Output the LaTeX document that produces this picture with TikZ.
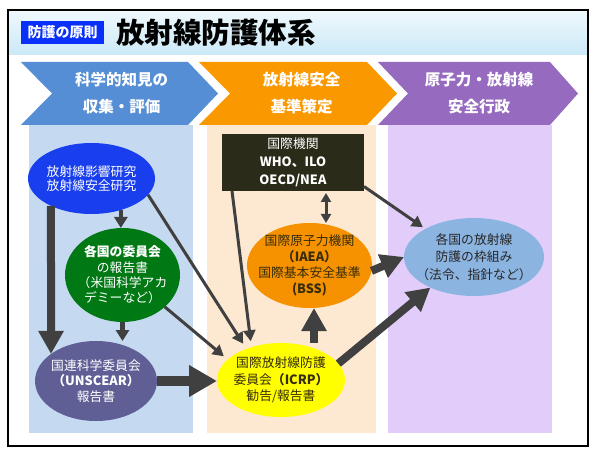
\documentclass[tikz,border=0pt]{standalone}
\usepackage{fontspec}
\setmainfont{Noto Sans CJK JP}
\usepackage{xcolor}
\definecolor{LabelBlue}{RGB}{8,48,250}
\definecolor{TitleBlue}{RGB}{203,233,247}
\definecolor{ChevBlue}{RGB}{85,142,213}
\definecolor{ChevOrange}{RGB}{250,152,0}
\definecolor{ChevPurple}{RGB}{150,106,190}
\definecolor{ColBlue}{RGB}{197,217,241}
\definecolor{ColOrange}{RGB}{253,233,209}
\definecolor{ColPurple}{RGB}{226,205,250}
\definecolor{ResBlue}{RGB}{25,62,238}
\definecolor{NatlGreen}{RGB}{0,120,20}
\definecolor{UnscPurple}{RGB}{95,95,150}
\definecolor{IcrpYellow}{RGB}{255,255,0}
\definecolor{IaeaOrange}{RGB}{246,145,0}
\definecolor{OrgDark}{RGB}{43,43,26}
\definecolor{FrameBlue}{RGB}{140,180,225}
\definecolor{ArrowGray}{RGB}{64,64,64}
\definecolor{DarkText}{RGB}{55,45,10}
\usepackage{tikz}
\usetikzlibrary{shapes.geometric, arrows.meta}

\begin{document}
\begin{tikzpicture}[x=1pt, y=-1pt,
	ell/.style={ellipse, inner sep=-14pt, outer sep=0pt, align=center},
	thinarr/.style={draw=ArrowGray, line width=3pt, -{Triangle[length=11pt, width=12pt]}},
	midarr/.style={draw=ArrowGray, line width=4.5pt, -{Triangle[length=11pt, width=13pt]}},
	bigarr/.style={draw=ArrowGray, line width=8pt, -{Triangle[length=23pt, width=24pt]}},
	hugearr/.style={draw=ArrowGray, line width=10pt, -{Triangle[length=28pt, width=30pt]}},
	dblarr/.style={draw=ArrowGray, line width=3pt, {Triangle[length=9pt, width=10pt]}-{Triangle[length=9pt, width=10pt]}},
	chevtext/.style={text=white, align=center, font=\bfseries\fontsize{15.5}{27}\selectfont}]
	\useasboundingbox (0,0) rectangle (599,454);
	% Cabecera
	\shade[top color=white!70!TitleBlue, bottom color=TitleBlue] (8,10) rectangle (588,55);
	\node[fill=LabelBlue, text=white, font=\bfseries\fontsize{14}{14}\selectfont, minimum width=83pt, minimum height=23pt, inner sep=0pt] (tag) at (62.5,32.5) {防護の原則};
	\node[anchor=west, inner sep=0pt, font=\bfseries\fontsize{28.5}{28.5}\selectfont] (title) at (116,33) {放射線防護体系};
	% Columnas
	\fill[ColBlue] (29,125) rectangle (193,433);
	\fill[ColOrange] (207,125) rectangle (376,433);
	\fill[ColPurple] (388,125) rectangle (552,433);
	% Flechas de cabecera
	\fill[ChevBlue] (21,62) -- (188,62) -- (218,93.5) -- (188,125) -- (21,125) -- (52,93.5) -- cycle;
	\fill[ChevOrange] (199,62) -- (367,62) -- (397,93.5) -- (367,125) -- (199,125) -- (230,93.5) -- cycle;
	\fill[ChevPurple] (378,62) -- (550,62) -- (578,93.5) -- (550,125) -- (378,125) -- (408,93.5) -- cycle;
	\node[chevtext] (hd1) at (121.5,93.5) {科学的知見の\\収集・評価};
	\node[chevtext] (hd2) at (301.5,93.5) {放射線安全\\基準策定};
	\node[chevtext] (hd3) at (479,93.5) {原子力・放射線\\安全行政};
	% Nodos
	\node[ell, fill=ResBlue, text=white, minimum width=127pt, minimum height=71pt, font=\fontsize{12.8}{14.5}\selectfont] (res) at (91.5,178.5) {放射線影響研究\\放射線安全研究};
	\node[ell, fill=NatlGreen, text=white, minimum width=115pt, minimum height=94pt, font=\fontsize{12.8}{15.3}\selectfont] (natl) at (122.5,275) {\textbf{各国の委員会}\\の報告書\\（米国科学アカ\\デミーなど）};
	\node[ell, fill=UnscPurple, text=white, minimum width=122pt, minimum height=80pt, font=\fontsize{12.8}{15.5}\selectfont] (unsc) at (96,381) {国連科学委員会\\\textbf{（UNSCEAR）}\\報告書};
	\node[ell, fill=IcrpYellow, text=DarkText, minimum width=128pt, minimum height=74pt, font=\fontsize{12.8}{16.5}\selectfont] (icrp) at (281,380) {国際放射線防護\\委員会\textbf{（ICRP）}\\勧告/報告書};
	\node[ell, fill=IaeaOrange, text=DarkText, minimum width=125pt, minimum height=85pt, font=\fontsize{12.8}{16}\selectfont] (iaea) at (309.5,265.5) {国際原子力機関\\\textbf{（IAEA）}\\国際基本安全基準\\\textbf{(BSS)}};
	\node[fill=OrgDark, text=white, minimum width=142pt, minimum height=57pt, inner sep=0pt, outer sep=0pt, align=center, font=\fontsize{12.8}{18}\selectfont] (org) at (293,162.5) {国際機関\\\textbf{WHO、ILO}\\\textbf{OECD/NEA}};
	\node[ell, fill=FrameBlue, text=black!85, minimum width=140pt, minimum height=78pt, font=\fontsize{12.8}{17.5}\selectfont] (natfw) at (474,257) {各国の放射線\\防護の枠組み\\（法令、指針など）};
	% Conexiones
	\draw[bigarr] (res.214) -- (unsc.149);
	\draw[midarr] (res.313) -- (res.313 |- natl.north);
	\draw[midarr] (natl.south) -- (natl.south |- unsc.north);
	\draw[thinarr, shorten >=6pt] (res.344) -- (icrp.138);
	\draw[thinarr, shorten >=5pt] (natl.323) -- (icrp.159);
	\draw[thinarr, shorten >=6pt] ([xshift=10pt]org.south west) -- (icrp.132);
	\draw[dblarr, shorten <=2pt] ([xshift=33pt]org.south) -- ([xshift=33pt]org.south |- iaea.north);
	\draw[thinarr, shorten >=3pt] ([yshift=-24pt]org.east) -- (natfw.150);
	\draw[bigarr] (iaea.355) -- (natfw.west);
	\draw[bigarr] ([xshift=4.5pt]iaea.south |- icrp.north) -- ([xshift=4.5pt]iaea.south);
	\draw[bigarr] (icrp.16) -- (natfw.215);
	\draw[hugearr] (unsc.east) -- (unsc.east -| icrp.west);
	% Marco
	\draw[line width=1.5pt] (8,10) rectangle (588,446);
\end{tikzpicture}
\end{document}
